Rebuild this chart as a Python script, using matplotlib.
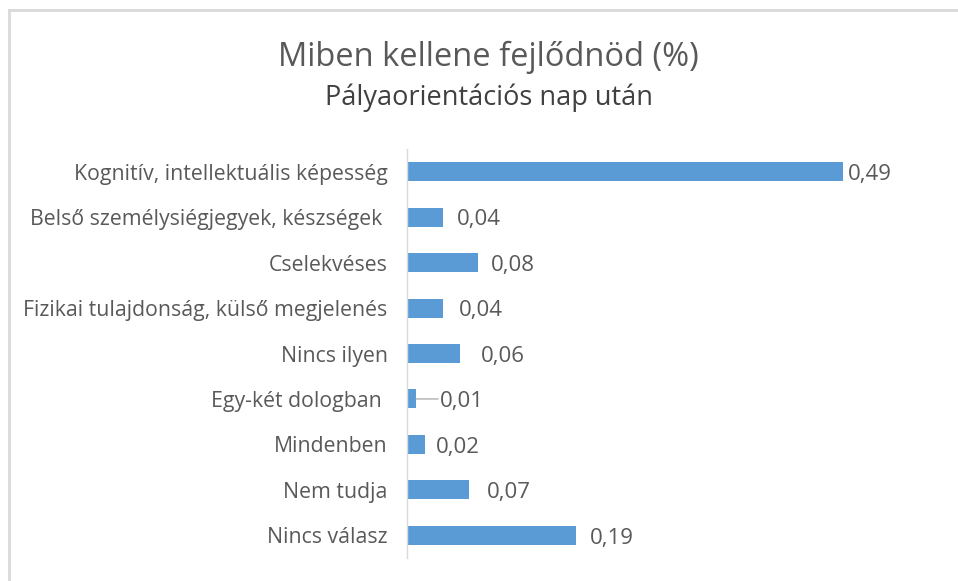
import matplotlib
matplotlib.use("Agg")
import matplotlib.pyplot as plt
from matplotlib.lines import Line2D

categories = [
    "Kognitív, intellektuális képesség",
    "Belső személysiégjegyek, készségek ",
    "Cselekvéses",
    "Fizikai tulajdonság, külső megjelenés",
    "Nincs ilyen",
    "Egy-két dologban ",
    "Mindenben",
    "Nem tudja",
    "Nincs válasz",
]
values = [0.49, 0.04, 0.08, 0.04, 0.06, 0.01, 0.02, 0.07, 0.19]
value_labels = ["0,49", "0,04", "0,08", "0,04", "0,06", "0,01", "0,02", "0,07", "0,19"]
# label offsets from bar end, in points (labels were moved by hand in the original)
label_offsets = [4, 10, 9, 12, 15, 17, 8, 13, 10]

title = "Miben kellene fejlődnöd (%)"
subtitle = "Pályaorientációs nap után"

plt.rcParams["font.family"] = ["Open Sans", "DejaVu Sans"]
txt = "#595959"

fig = plt.figure(figsize=(9.58, 5.81), dpi=100)
ax = fig.add_axes([407 / 958, 1 - 558 / 581, (896 - 407) / 958, (558 - 149) / 581])

n = len(categories)
ypos = list(range(n))
ax.barh(ypos, values, height=0.42, color="#5B9BD5", zorder=2)
ax.set_ylim(n - 0.5, -0.5)
ax.set_xlim(0, 0.55)
ax.set_yticks(ypos)
ax.set_yticklabels(categories, fontsize=15.3, color=txt)
ax.tick_params(axis="y", length=0, pad=14)
ax.set_xticks([])
for s in ["top", "right", "bottom"]:
    ax.spines[s].set_visible(False)
ax.spines["left"].set_color("#D9D9D9")
ax.spines["left"].set_linewidth(1.0)

for i, (v, lab, off) in enumerate(zip(values, value_labels, label_offsets)):
    ax.annotate(lab, xy=(v, i), xytext=(off, -2), textcoords="offset points",
                ha="left", va="center", fontsize=16, color=txt)
    if off >= 15 and v < 0.015:
        ax.annotate("", xy=(v, i), xytext=(off - 1, 0), textcoords="offset points",
                    arrowprops=dict(arrowstyle="-", color="#A6A6A6", lw=0.9,
                                    shrinkA=0, shrinkB=0))

fig.text(488 / 958, 1 - 57 / 581, title, ha="center", va="center", fontsize=23.5, color=txt)
fig.text(489 / 958, 1 - 98 / 581, subtitle, ha="center", va="center", fontsize=19.5, color="#404040")

# chart border (only top and left visible in the crop)
fig.add_artist(Line2D([9 / 958, 1], [1 - 10 / 581, 1 - 10 / 581], transform=fig.transFigure,
                      color="#D9D9D9", lw=2))
fig.add_artist(Line2D([9 / 958, 9 / 958], [0, 1 - 10 / 581], transform=fig.transFigure,
                      color="#D9D9D9", lw=2))

fig.savefig("out.png", dpi=100)
